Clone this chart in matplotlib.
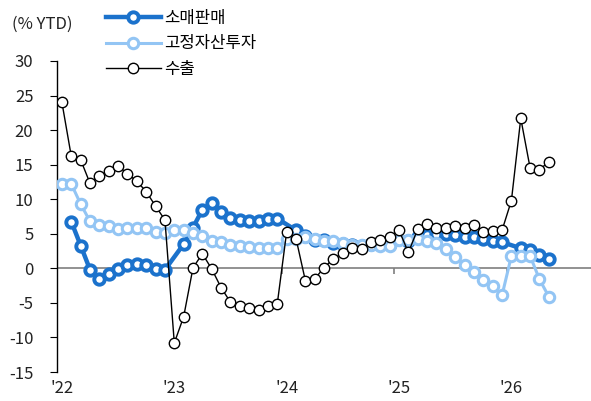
import numpy as np
import matplotlib
matplotlib.use("Agg")
import matplotlib.pyplot as plt

plt.rcParams['font.family'] = ['Noto Sans CJK KR', 'DejaVu Sans']
plt.rcParams['axes.unicode_minus'] = False

# monthly, Jan 2022 .. May 2026 (index 0..52)
nan = np.nan
export = [24.0, 16.2, 15.7, 12.3, 13.4, 14.1, 14.8, 13.7, 12.6, 11.1, 9.0, 7.0,
          -10.8, -7.0, 0.1, 2.1, -0.1, -2.8, -4.9, -5.5, -5.8, -6.0, -5.5, -5.1,
          5.3, 4.3, -1.8, -1.5, 0.1, 1.4, 2.2, 2.9, 2.75, 3.8, 4.05, 4.6,
          5.5, 2.3, 5.7, 6.4, 5.9, 5.9, 6.1, 5.8, 6.3, 5.3, 5.4, 5.5,
          9.8, 21.7, 14.5, 14.3, 15.4]
retail = [nan, 6.75, 3.3, -0.2, -1.6, -0.8, -0.1, 0.5, 0.6, 0.5, -0.05, -0.2,
          nan, 3.5, 5.9, 8.5, 9.4, 8.2, 7.3, 7.0, 6.8, 6.9, 7.2, 7.2,
          nan, 5.5, 4.7, 4.1, 4.1, 3.7, 3.5, 3.4, 3.3, 3.5, 3.5, 3.5,
          nan, 4.0, 4.6, 4.8, 5.0, 4.9, 4.8, 4.6, 4.5, 4.3, 4.0, 3.8,
          nan, 2.9, 2.6, 1.9, 1.4]
fai = [12.2, 12.2, 9.3, 6.8, 6.2, 6.1, 5.7, 5.8, 5.9, 5.8, 5.3, 5.1,
       5.5, 5.5, 5.1, 4.7, 4.0, 3.8, 3.4, 3.2, 3.1, 2.9, 2.9, 3.0,
       4.2, 4.2, 4.5, 4.2, 4.0, 3.9, 3.6, 3.4, 3.4, 3.4, 3.3, 3.2,
       4.1, 4.1, 4.2, 4.0, 3.7, 2.8, 1.6, 0.5, -0.5, -1.7, -2.6, -3.9,
       1.8, 1.8, 1.8, -1.6, -4.1]
year_labels = ["'22", "'23", "'24", "'25", "'26"]

x = np.arange(len(export))
retail = np.array(retail)
mask = ~np.isnan(retail)

fig = plt.figure(figsize=(5.91, 4.01), dpi=100)
ax = fig.add_axes([0.0964, 0.0723, 0.9036, 0.7756])

dark = '#1B72CC'
light = '#93C5F4'
ax.axhline(0, color='#7f7f7f', lw=1.2, zorder=1)
ax.plot(x[mask], retail[mask], color=dark, lw=3.2, marker='o', ms=7.5,
        mfc='white', mec=dark, mew=2.8, label='소매판매', zorder=3)
ax.plot(x, fai, color=light, lw=2.2, marker='o', ms=7.5,
        mfc='white', mec=light, mew=2.2, label='고정자산투자', zorder=4)
ax.plot(x, export, color='black', lw=1.0, marker='o', ms=7.5,
        mfc='white', mec='black', mew=1.0, label='수출', zorder=5)

ax.set_xlim(-0.53, 56.5)
ax.set_ylim(-15, 30)
ax.set_yticks(range(-15, 31, 5))
ax.set_xticks(np.arange(0, 49, 12))
ax.set_xticklabels(year_labels)
ax.tick_params(axis='x', length=0, pad=6, labelsize=12, labelcolor='#222222')
ax.tick_params(axis='y', length=5, pad=12, labelsize=12, labelcolor='#222222')
for s in ['top', 'right', 'bottom']:
    ax.spines[s].set_visible(False)
ax.spines['left'].set_linewidth(1.0)

# year boundary ticks on the zero line
sec = ax.secondary_xaxis(15 / 45)
sec.set_alignment('bottom')
sec.set_xticks(np.arange(11.5, 48, 12))
sec.tick_params(length=4, width=1.2, color='#7f7f7f', labelbottom=False, labeltop=False)
sec.spines['bottom'].set_visible(False)
sec.spines['top'].set_visible(False)

fig.text(0.02, 0.94, '(% YTD)', fontsize=12, color='#222222', va='center')
ax.legend(loc='upper left', bbox_to_anchor=(0.079, 1.185), frameon=False,
          fontsize=12, handlelength=3.3, labelspacing=0.5, handletextpad=0.2,
          borderaxespad=0)

fig.savefig('out.png', dpi=100)
